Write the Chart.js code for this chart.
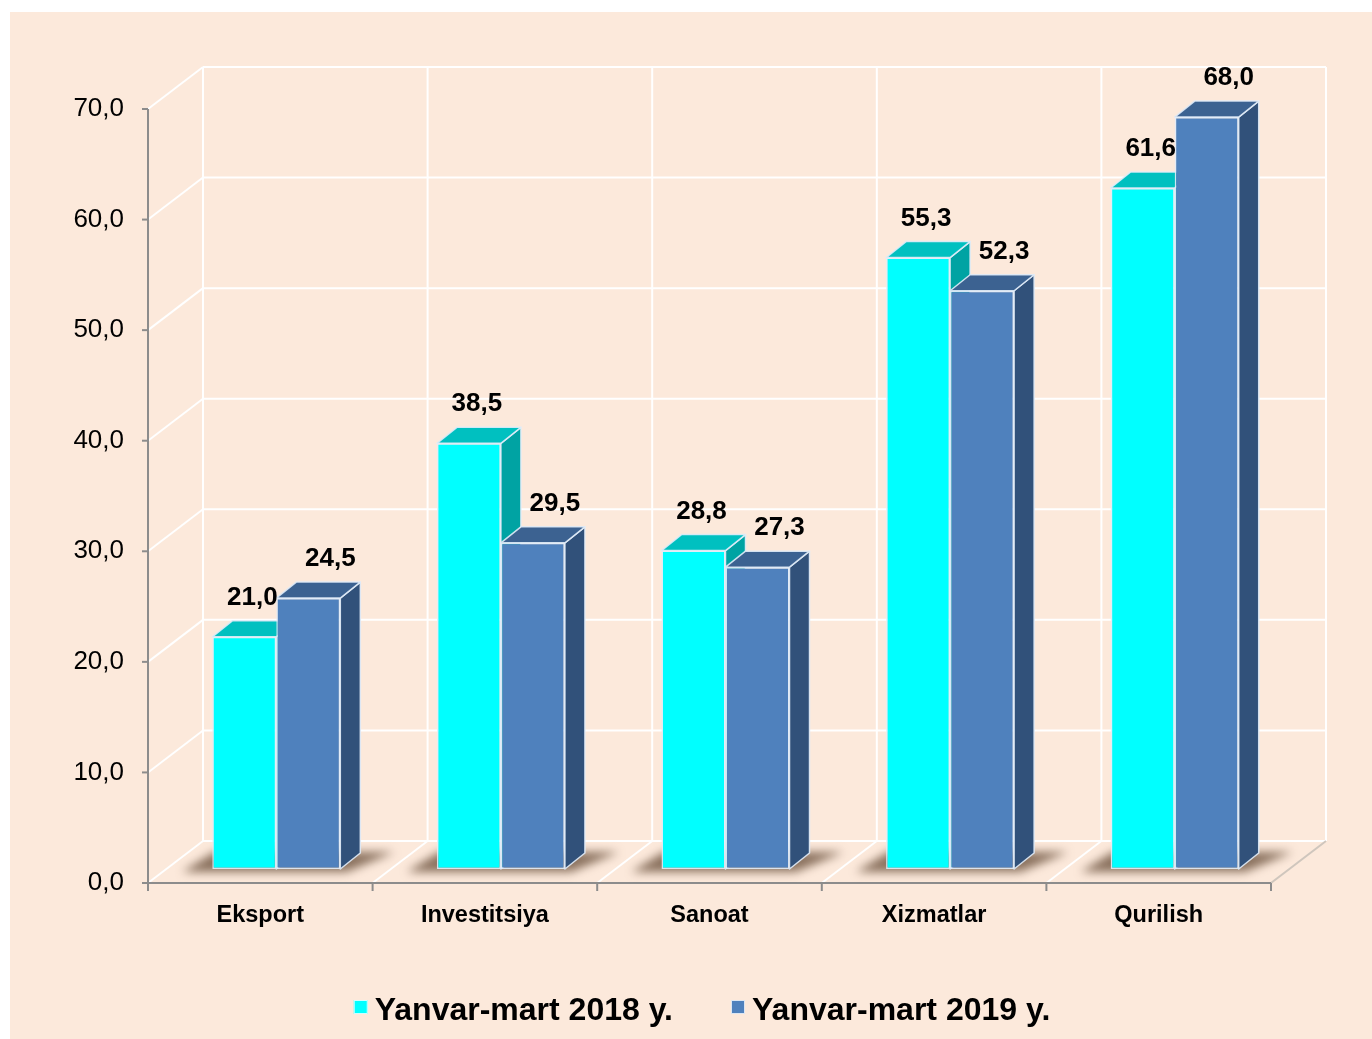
<!DOCTYPE html>
<html>
<head>
<meta charset="utf-8">
<script src="https://cdn.jsdelivr.net/npm/chart.js@4.4.1/dist/chart.umd.min.js"></script>
<style>
  html, body { margin: 0; padding: 0; background: #fff; }
  canvas { display: block; }
</style>
</head>
<body>
<canvas id="c" width="1372" height="1039"></canvas>
<script>
const categories = ['Eksport', 'Investitsiya', 'Sanoat', 'Xizmatlar', 'Qurilish'];
const series2018 = [21.0, 38.5, 28.8, 55.3, 61.6];
const series2019 = [24.5, 29.5, 27.3, 52.3, 68.0];
const seriesNames = ['Yanvar-mart 2018 y.', 'Yanvar-mart 2019 y.'];
const yMin = 0, yMax = 70, yStep = 10;

const FONT = "'Liberation Sans', Arial, sans-serif";
const fmt = v => Number(v).toFixed(1).replace('.', ',');

// fake 3d: wall depth, plane the bars stand on, bar depth
const WALL = { dx: 55, dy: -42 };
const PLANE = { dx: 16, dy: -14 };
const DEPTH = { dx: 20, dy: -16 };
const faces = [
  { front: '#00FFFF', top: '#00C0C0', side: '#00A3A3' },
  { front: '#4F81BD', top: '#3C6291', side: '#31517A' }
];
const labelShift = [8, 22];

function poly(ctx, pts) {
  ctx.beginPath();
  ctx.moveTo(pts[0][0], pts[0][1]);
  for (let i = 1; i < pts.length; i++) ctx.lineTo(pts[i][0], pts[i][1]);
  ctx.closePath();
}

function seg(ctx, x1, y1, x2, y2) {
  ctx.beginPath();
  ctx.moveTo(x1, y1);
  ctx.lineTo(x2, y2);
  ctx.stroke();
}

const box3d = {
  id: 'box3d',
  beforeDraw(chart) {
    const { ctx } = chart;
    const x = chart.scales.x, y = chart.scales.y;
    ctx.save();
    ctx.fillStyle = '#fff';
    ctx.fillRect(0, 0, chart.width, chart.height);
    ctx.fillStyle = '#FCE9DB';
    ctx.fillRect(10, 12, chart.width - 10, chart.height - 12);

    const left = x.left, right = x.right;
    const y0 = y.getPixelForValue(yMin), yT = y.getPixelForValue(yMax);
    const step = x.width / categories.length;

    ctx.strokeStyle = '#fff';
    ctx.lineWidth = 2;
    for (let v = yMin; v <= yMax; v += yStep) {
      const py = y.getPixelForValue(v);
      seg(ctx, left, py, left + WALL.dx, py + WALL.dy);
      seg(ctx, left + WALL.dx, py + WALL.dy, right + WALL.dx, py + WALL.dy);
    }
    for (let i = 0; i <= categories.length; i++) {
      const px = left + i * step;
      ctx.strokeStyle = '#fff';
      seg(ctx, px + WALL.dx, y0 + WALL.dy, px + WALL.dx, yT + WALL.dy);
      if (i > 0) {
        ctx.strokeStyle = i === categories.length ? '#cfc6bd' : '#fff';
        seg(ctx, px, y0, px + WALL.dx, y0 + WALL.dy);
      }
    }

    // front axes
    ctx.strokeStyle = '#8c8c8c';
    ctx.lineWidth = 2;
    seg(ctx, left, yT, left, y0);
    seg(ctx, left - 6, y0, right, y0);
    for (let v = yMin; v <= yMax; v += yStep) {
      const py = y.getPixelForValue(v);
      seg(ctx, left - 6, py, left, py);
    }
    for (let i = 0; i <= categories.length; i++) {
      const px = left + i * step;
      seg(ctx, px, y0, px, y0 + 8);
    }
    ctx.restore();
  },
  beforeDatasetsDraw(chart) {
    const { ctx } = chart;
    const metas = chart.data.datasets.map((d, i) => chart.getDatasetMeta(i));
    ctx.save();
    ctx.translate(PLANE.dx, PLANE.dy);

    // soft shadow on the floor
    categories.forEach((c, i) => {
      const a = metas[0].data[i], b = metas[metas.length - 1].data[i];
      const l = a.x - a.width / 2, r = b.x + b.width / 2, base = a.base;
      ctx.save();
      ctx.filter = 'blur(5px)';
      ctx.fillStyle = 'rgba(90, 62, 42, 0.7)';
      poly(ctx, [[l - 30, base + 3], [r + 6, base + 3], [r + DEPTH.dx + 34, base + DEPTH.dy - 1], [l + 2, base + DEPTH.dy - 1]]);
      ctx.fill();
      ctx.restore();
    });

    // top and side faces
    ctx.strokeStyle = 'rgba(225, 236, 248, 0.9)';
    ctx.lineWidth = 1.5;
    ctx.lineJoin = 'round';
    categories.forEach((c, i) => {
      metas.forEach((m, k) => {
        const el = m.data[i];
        const l = el.x - el.width / 2, r = el.x + el.width / 2, t = el.y, b = el.base;
        ctx.fillStyle = faces[k].side;
        poly(ctx, [[r, t], [r + DEPTH.dx, t + DEPTH.dy], [r + DEPTH.dx, b + DEPTH.dy], [r, b]]);
        ctx.fill();
        ctx.stroke();
        ctx.fillStyle = faces[k].top;
        poly(ctx, [[l, t], [r, t], [r + DEPTH.dx, t + DEPTH.dy], [l + DEPTH.dx, t + DEPTH.dy]]);
        ctx.fill();
        ctx.stroke();
      });
    });
    ctx.restore();

    // front faces drawn by Chart.js, shifted onto the bar plane
    ctx.save();
    ctx.translate(PLANE.dx, PLANE.dy);
  },
  afterDatasetsDraw(chart) {
    const { ctx } = chart;
    ctx.restore();

    ctx.save();
    ctx.fillStyle = '#000';
    ctx.font = 'bold 26px ' + FONT;
    ctx.textAlign = 'center';
    ctx.textBaseline = 'middle';
    chart.data.datasets.forEach((ds, k) => {
      chart.getDatasetMeta(k).data.forEach((el, i) => {
        ctx.fillText(fmt(ds.data[i]), el.x + PLANE.dx + labelShift[k], el.y + PLANE.dy - 39);
      });
    });
    ctx.restore();
  },
  afterDraw(chart) {
    // legend
    const { ctx } = chart;
    ctx.save();
    ctx.font = 'bold 32px ' + FONT;
    ctx.textBaseline = 'alphabetic';
    ctx.textAlign = 'left';
    const boxSize = 14, boxGap = 7, itemGap = 58, centerX = 702, baseY = 1020;
    const items = chart.data.datasets.map(ds => ({ label: ds.label, color: ds.backgroundColor, w: ctx.measureText(ds.label).width }));
    const total = items.reduce((s, it) => s + boxSize + boxGap + it.w, 0) + itemGap * (items.length - 1);
    let cx = centerX - total / 2;
    items.forEach(it => {
      ctx.fillStyle = it.color;
      ctx.fillRect(cx, baseY - 20, boxSize, boxSize);
      ctx.strokeStyle = 'rgba(255,255,255,0.8)';
      ctx.lineWidth = 1;
      ctx.strokeRect(cx + 0.5, baseY - 19.5, boxSize - 1, boxSize - 1);
      ctx.fillStyle = '#000';
      ctx.fillText(it.label, cx + boxSize + boxGap, baseY);
      cx += boxSize + boxGap + it.w + itemGap;
    });
    ctx.restore();
  }
};

const barStyle = {
  barPercentage: 1,
  categoryPercentage: 0.57,
  borderWidth: 1.5,
  borderColor: 'rgba(225, 236, 248, 0.9)',
  borderSkipped: false,
  clip: false
};

new Chart(document.getElementById('c'), {
  type: 'bar',
  data: {
    labels: categories,
    datasets: [
      Object.assign({ label: seriesNames[0], data: series2018, backgroundColor: faces[0].front }, barStyle),
      Object.assign({ label: seriesNames[1], data: series2019, backgroundColor: faces[1].front }, barStyle)
    ]
  },
  options: {
    responsive: false,
    animation: false,
    devicePixelRatio: 1,
    layout: { padding: { top: 109, right: 101, left: 0, bottom: 0 } },
    plugins: {
      legend: { display: false },
      tooltip: { enabled: false }
    },
    scales: {
      x: {
        grid: { display: false, drawTicks: false },
        border: { display: false },
        ticks: { color: '#000', font: { family: FONT, size: 23.5, weight: 'bold' }, padding: 18, maxRotation: 0 },
        afterFit: s => { s.height = 156; }
      },
      y: {
        min: yMin,
        max: yMax,
        grid: { display: false, drawTicks: false },
        border: { display: false },
        ticks: { stepSize: yStep, color: '#000', font: { family: FONT, size: 26 }, padding: 24, callback: v => fmt(v) },
        afterFit: s => { s.width = 148; }
      }
    }
  },
  plugins: [box3d]
});
</script>
</body>
</html>
